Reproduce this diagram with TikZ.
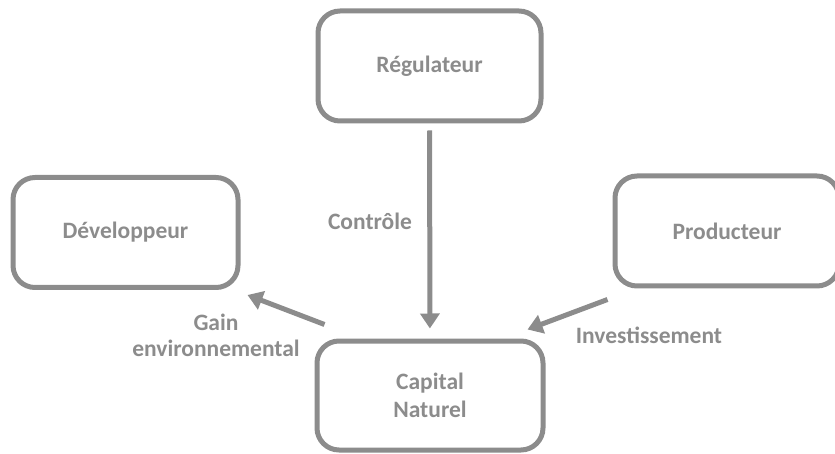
\documentclass[tikz,border=0pt]{standalone}
\usepackage{fontspec}
\setmainfont{Carlito}
\usetikzlibrary{arrows.meta}
\definecolor{boxgray}{RGB}{140,140,140}
\tikzset{
  actor/.style={draw=boxgray, line width=5pt, rounded corners=22pt,
    minimum width=224pt, minimum height=110pt, align=center,
    text=boxgray, font=\fontsize{23.5}{28}\selectfont\bfseries},
  flow/.style={draw=boxgray, line width=5pt,
    -{Triangle[length=15pt,width=19pt]}},
  flowlabel/.style={text=boxgray, font=\fontsize{23.5}{26}\selectfont\bfseries}
}
\begin{document}
\begin{tikzpicture}[x=1pt,y=-1pt]
  \useasboundingbox (0,0) rectangle (835,454);
  % the four actors
  \node[actor, minimum width=223pt] (reg) at (429.5,66) {Régulateur};
  \node[actor, minimum width=225pt] (dev) at (125.5,232.5) {Développeur};
  \node[actor] (prod) at (727,231) {Producteur};
  \node[actor, minimum width=226pt, minimum height=109pt] (cap) at (430,395.5) {Capital\\Naturel};
  % flows
  \coordinate (devtip) at ([shift={(7,5)}]dev.south east);
  \coordinate (capnw) at ([shift={(10,-14)}]cap.north west);
  \coordinate (prodsw) at ([shift={(-5,11)}]prod.south west);
  \coordinate (capne) at ([shift={(-18,-9)}]cap.north east);
  \draw[flow, shorten <=7pt, shorten >=10pt] (reg) -- (cap);
  \draw[flow] (capnw) -- (devtip);
  \draw[flow] (prodsw) -- (capne);
  % labels
  \node[flowlabel] (ctrl) at (370,221) {Contrôle};
  \node[flowlabel, align=center] (gain) at (216,335) {Gain\\environnemental};
  \node[flowlabel] (invest) at (649,335) {Investissement};
\end{tikzpicture}
\end{document}
